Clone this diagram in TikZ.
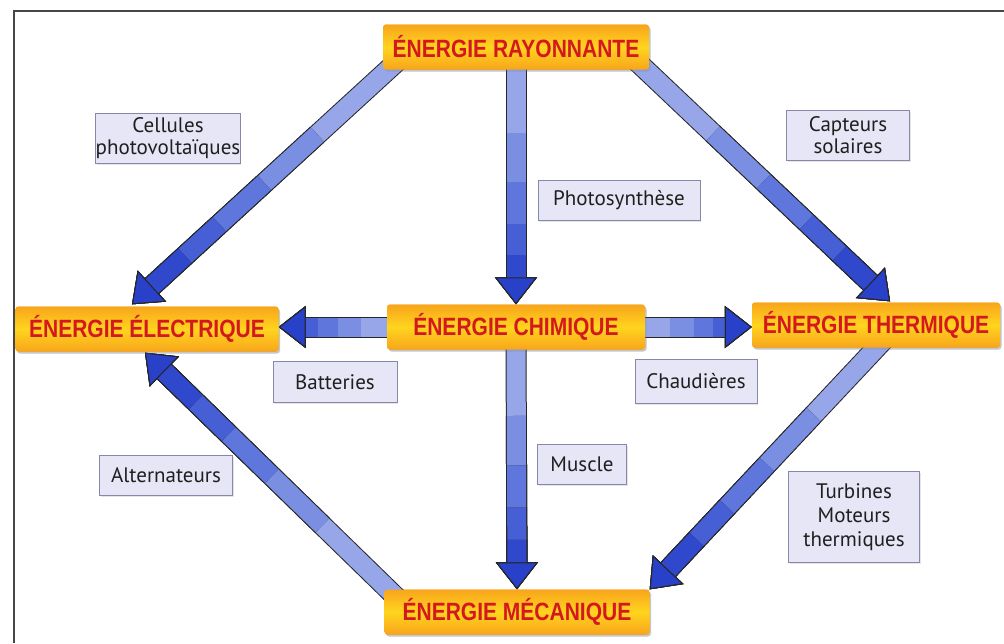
\documentclass[tikz,border=0pt]{standalone}
\usepackage{fontspec}
\setmainfont{PT Sans}
\newfontfamily\headfont[FakeStretch=0.84]{Liberation Sans}
\usetikzlibrary{arrows.meta,calc,shadows}
\definecolor{arrA}{RGB}{150,166,232}
\definecolor{arrB}{RGB}{122,142,226}
\definecolor{arrC}{RGB}{95,118,220}
\definecolor{arrD}{RGB}{70,95,212}
\definecolor{arrE}{RGB}{48,72,204}
\definecolor{tipblue}{RGB}{40,65,200}
\definecolor{boxfill}{RGB}{230,230,246}
\definecolor{boxline}{RGB}{135,135,170}
\definecolor{headred}{RGB}{212,24,32}
\definecolor{orgA}{RGB}{248,165,28}
\definecolor{orgB}{RGB}{255,212,30}
\definecolor{frame}{RGB}{70,70,70}
\tikzset{
  energy/.style={rectangle, rounded corners=3pt, top color=orgA, bottom color=orgA,
    middle color=orgB, minimum height=45pt, inner sep=0pt,
    font=\headfont\bfseries\fontsize{25}{27}\selectfont, text=headred,
    drop shadow={shadow xshift=1.5pt, shadow yshift=-2pt, opacity=0.25}},
  lbl/.style={rectangle, fill=boxfill, draw=boxline, line width=0.9pt, inner sep=0pt,
    font=\fontsize{21}{22}\selectfont, text=black!88, align=center,
    drop shadow={shadow xshift=1pt, shadow yshift=-1.5pt, opacity=0.2}},
  fatbase/.style={line width=19pt,
    -{Triangle[length=27pt,width=42pt,color=black!85,fill=tipblue,line width=1pt]},
    preaction={draw=black!85, line width=21pt, -, shorten >=25pt}},
  fatA/.style={fatbase, draw=arrA},
  fatB/.style={fatbase, draw=arrB},
  fatC/.style={fatbase, draw=arrC},
  fatD/.style={fatbase, draw=arrD},
  fatE/.style={fatbase, draw=arrE},
}
\newcommand{\fatarrow}[2]{%
  \draw[fatA] #1 -- #2;
  \draw[fatB] ($#1!0.3!#2$) -- #2;
  \draw[fatC] ($#1!0.5!#2$) -- #2;
  \draw[fatD] ($#1!0.67!#2$) -- #2;
  \draw[fatE] ($#1!0.8!#2$) -- #2;
}
\begin{document}
\begin{tikzpicture}[x=1pt,y=-1pt]
\useasboundingbox (0,0) rectangle (1004,643);
\fill[white] (0,0) rectangle (1004,643);
\draw[frame, line width=2pt] (14,643) -- (14,11) -- (1004,11);

% energy nodes
\node[energy, minimum width=266pt] (ray) at (516,47) {ÉNERGIE RAYONNANTE};
\node[energy, minimum width=263pt] (ele) at (147,329) {ÉNERGIE ÉLECTRIQUE};
\node[energy, minimum width=258pt] (che) at (516,327) {ÉNERGIE CHIMIQUE};
\node[energy, minimum width=248pt] (the) at (876,325) {ÉNERGIE THERMIQUE};
\node[energy, minimum width=265pt] (mec) at (517,612) {ÉNERGIE MÉCANIQUE};

% arrow end points
\coordinate (r1) at ([xshift=14pt,yshift=8pt]ray.south west);
\coordinate (e1) at ([xshift=-15pt,yshift=2pt]ele.north);
\coordinate (r2) at ([yshift=10pt]ray.south);
\coordinate (r3) at ([xshift=-12pt,yshift=8pt]ray.south east);
\coordinate (t1) at ([xshift=14pt,yshift=1pt]the.north);
\coordinate (c1) at ([xshift=10pt]che.west);
\coordinate (c2) at ([xshift=-10pt]che.east);
\coordinate (c3) at ([yshift=8pt]che.south);
\coordinate (t2) at ([xshift=8pt,yshift=8pt]the.south);
\coordinate (m1) at ([xshift=14pt,yshift=-10pt]mec.north west);
\coordinate (e2) at ([xshift=-2pt,yshift=-1pt]ele.south);

\fatarrow{(r1)}{(e1)}
\fatarrow{(r2)}{(che.north)}
\fatarrow{(r3)}{(t1)}
\fatarrow{(c1)}{(c1 -| ele.east)}
\fatarrow{(c2)}{(c2 -| the.west)}
\fatarrow{(c3)}{(mec.north)}
\fatarrow{(t2)}{(mec.north east)}
\fatarrow{(m1)}{(e2)}

% energy nodes again, above the arrow shafts
\node[energy, minimum width=266pt] at (ray) {ÉNERGIE RAYONNANTE};
\node[energy, minimum width=263pt] at (ele) {ÉNERGIE ÉLECTRIQUE};
\node[energy, minimum width=258pt] at (che) {ÉNERGIE CHIMIQUE};
\node[energy, minimum width=248pt] at (the) {ÉNERGIE THERMIQUE};
\node[energy, minimum width=265pt] at (mec) {ÉNERGIE MÉCANIQUE};

% labels
\node[lbl, minimum width=143pt, minimum height=50pt] (cell) at (168,138) {Cellules\\photovoltaïques};
\node[lbl, minimum width=162pt, minimum height=40pt] (photo) at (619,200) {Photosynthèse};
\node[lbl, minimum width=123pt, minimum height=50pt] (capt) at (848,135) {Capteurs\\solaires};
\node[lbl, minimum width=124pt, minimum height=41pt] (batt) at (335,382) {Batteries};
\node[lbl, minimum width=122pt, minimum height=44pt] (chaud) at (696,381) {Chaudières};
\node[lbl, minimum width=89pt, minimum height=40pt] (musc) at (582,464) {Muscle};
\node[lbl, minimum width=133pt, minimum height=40pt] (alt) at (166,475) {Alternateurs};
\node[lbl, minimum width=131pt, minimum height=91pt, font=\fontsize{21}{24}\selectfont] (turb) at (854,517) {Turbines\\Moteurs\\thermiques};
\end{tikzpicture}
\end{document}
